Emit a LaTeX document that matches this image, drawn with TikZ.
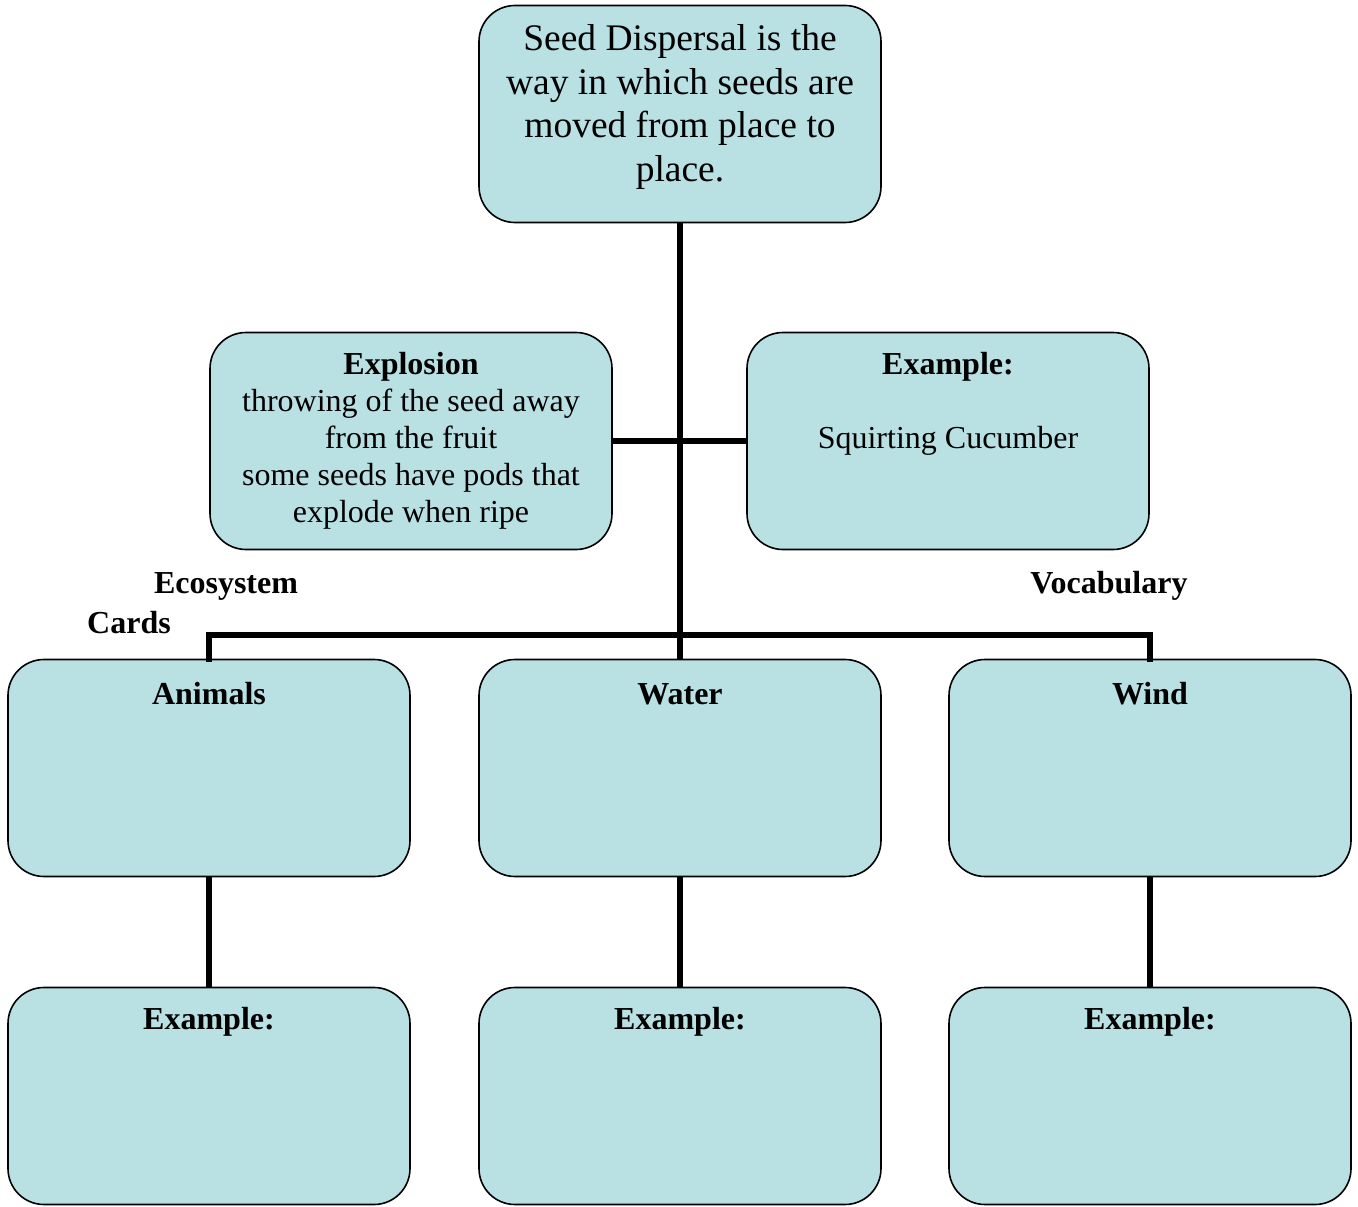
\documentclass[tikz,border=0pt]{standalone}
\usepackage{fontspec}
\setmainfont{Liberation Serif}
\definecolor{boxfill}{HTML}{B9E0E3}
\begin{document}
\begin{tikzpicture}[x=1pt,y=-1pt,
  card/.style={draw=black,line width=1.6pt,fill=boxfill,rounded corners=36pt,
    minimum width=402pt,minimum height=217pt,inner sep=0pt,outer sep=0pt},
  txt/.style={align=center,inner sep=0pt,font=\fontsize{32}{37}\selectfont},
  bigtxt/.style={align=center,inner sep=0pt,font=\fontsize{37.5}{43.5}\selectfont},
  btxt/.style={align=center,inner sep=0pt,font=\fontsize{32}{37}\selectfont\bfseries},
  conn/.style={line width=5.5pt}]
\useasboundingbox (0,0) rectangle (1358,1207);
\coordinate (barL) at (209,635);
\coordinate (barR) at (1150,635);
% boxes
\node[card] (top) at (680,114) {};
\node[card] (expl) at (411,441) {};
\node[card] (exr) at (948,441) {};
\node[card] (anim) at (209,768) {};
\node[card] (water) at (680,768) {};
\node[card] (wind) at (1150,768) {};
\node[card] (exa) at (209,1096) {};
\node[card] (exw) at (680,1096) {};
\node[card] (exd) at (1150,1096) {};
% connectors
\draw[conn] (top.south) -- (water.north);
\draw[conn] (expl.east) -- (exr.west);
\draw[conn,line cap=rect] (anim.north) -- (barL) -- (barR) -- (wind.north);
\draw[conn] (anim.south) -- (exa.north);
\draw[conn] (water.south) -- (exw.north);
\draw[conn] (wind.south) -- (exd.north);
% texts
\node[bigtxt] (ttop) at (680,107) {Seed Dispersal is the\\way in which seeds are\\moved from place to\\place.};
\node[txt] (texpl) at (411,441) {\textbf{Explosion}\\throwing of the seed away\\from the fruit\\some seeds have pods that\\explode when ripe};
\node[btxt] (texr1) at (948,367) {Example:};
\node[txt] (texr2) at (948,441) {Squirting Cucumber};
\node[btxt] (tanim) at (209,694) {Animals};
\node[btxt] (twater) at (680,694) {Water};
\node[btxt] (twind) at (1150,694) {Wind};
\node[btxt] (texa) at (209,1022) {Example:};
\node[btxt] (texw) at (680,1022) {Example:};
\node[btxt] (texd) at (1150,1022) {Example:};
\node[btxt] (teco) at (226,586) {Ecosystem};
\node[btxt] (tcards) at (129,623) {Cards};
\node[btxt] (tvoc) at (1109,586) {Vocabulary};
\end{tikzpicture}
\end{document}
